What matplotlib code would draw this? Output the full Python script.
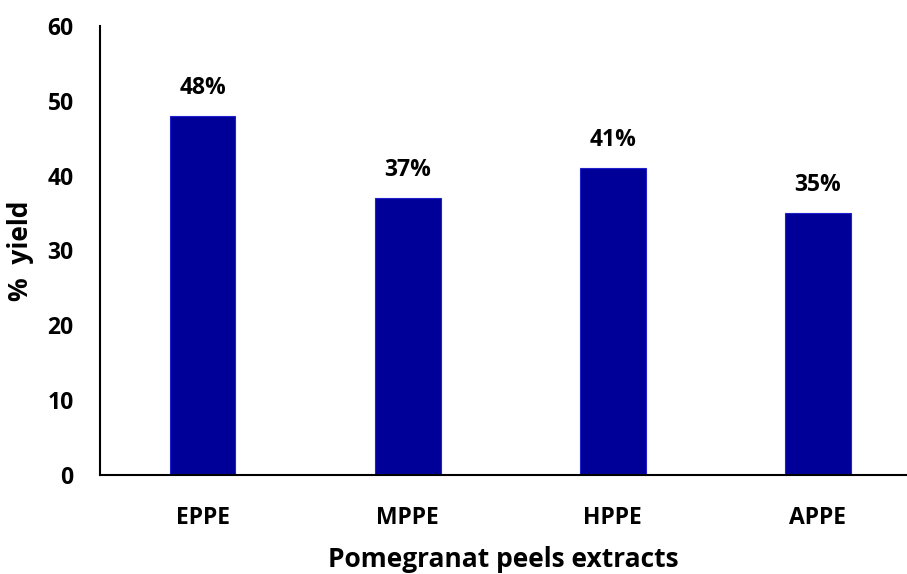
import matplotlib.pyplot as plt
import numpy as np

plt.rcParams['font.family'] = ['Open Sans', 'DejaVu Sans']
plt.rcParams['font.weight'] = 'bold'

extracts = ['EPPE', 'MPPE', 'HPPE', 'APPE']
yields = [48, 37, 41, 35]
labels = ['48%', '37%', '41%', '35%']

fig = plt.figure(figsize=(9.07, 5.74), dpi=100)
ax = fig.add_axes([0.1103, 0.1725, 0.8897, 0.7822])

x = np.arange(len(extracts))
ax.bar(x, yields, width=0.32, color='#000099', edgecolor='#2020cc', linewidth=0.8)

for xi, v, lab in zip(x, yields, labels):
    ax.annotate(lab, (xi, v), xytext=(0, 20), textcoords='offset points',
                ha='center', va='center', fontsize=16.5, fontweight='bold')

ax.set_xlim(-0.5, 3.434)
ax.set_ylim(0, 60)
ax.set_yticks(range(0, 61, 10))
ax.set_xticks(x)
ax.set_xticklabels(extracts)
ax.tick_params(axis='both', length=0, labelsize=16.5)
ax.tick_params(axis='x', pad=22)
ax.tick_params(axis='y', pad=19)
for t in ax.get_xticklabels() + ax.get_yticklabels():
    t.set_fontweight('bold')

ax.spines['top'].set_visible(False)
ax.spines['right'].set_visible(False)
ax.spines['left'].set_linewidth(1.5)
ax.spines['bottom'].set_linewidth(1.5)

ax.set_xlabel('Pomegranat peels extracts', fontsize=19, fontweight='bold', labelpad=12)
ax.set_ylabel('%  yield', fontsize=19, fontweight='bold', labelpad=10)

fig.savefig('out.png', dpi=100)
